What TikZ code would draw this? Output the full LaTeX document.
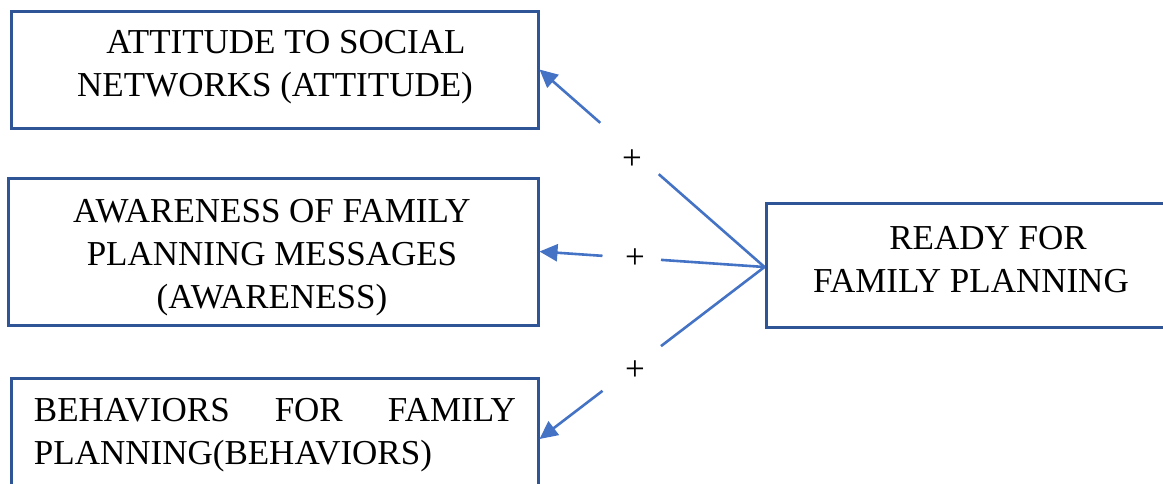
\documentclass[tikz,border=0pt]{standalone}
\usepackage{fontspec}
\setmainfont{Liberation Serif}
\usetikzlibrary{arrows.meta,calc}
\definecolor{boxblue}{HTML}{2F5597}
\definecolor{linkblue}{HTML}{4472C4}
\begin{document}
\begin{tikzpicture}[x=1pt,y=-1pt,
  box/.style={draw=boxblue,line width=3pt,inner sep=0pt},
  txt/.style={font=\fontsize{35}{43}\selectfont,inner sep=0pt,align=center},
  link/.style={draw=linkblue,line width=2.6pt},
  arr/.style={link,-{Triangle[length=18pt,width=17pt]}}]
\useasboundingbox (0,0) rectangle (1163,483);
\clip (0,0) rectangle (1163,483);
\node[box,minimum width=527pt,minimum height=117pt] (b1) at (274.5,69.5) {};
\node[box,minimum width=530pt,minimum height=147pt] (b2) at (273,251.5) {};
\node[box,minimum width=527pt,minimum height=122pt] (b3) at (274.5,439) {};
\node[box,minimum width=414pt,minimum height=124pt] (b4) at (973,265) {};
\node[txt] (t1) at (275,67.5) {\hspace*{22pt}ATTITUDE TO SOCIAL\\NETWORKS (ATTITUDE)};
\node[txt] (t2) at (272,258) {AWARENESS OF FAMILY\\PLANNING MESSAGES\\(AWARENESS)};
\node[txt,align=left,text width=482pt] (t3) at (275,435.5) {\hbox to 482pt{BEHAVIORS\hfill FOR\hfill FAMILY}\\PLANNING(BEHAVIORS)};
\node[txt] (t4) at (971,259.5) {\hspace*{34pt}READY FOR\\FAMILY PLANNING};
\coordinate (r) at ([yshift=-2pt]b4.west);
\draw[link] (r) -- ($(r)!0.47!(b1.east)$);
\draw[arr] ($(r)!0.73!(b1.east)$) -- (b1.east);
\draw[link] (r) -- ($(r)!0.46!(b2.east)$);
\draw[arr] ($(r)!0.72!(b2.east)$) -- (b2.east);
\draw[link] (r) -- ($(r)!0.46!(b3.east)$);
\draw[arr] ($(r)!0.72!(b3.east)$) -- (b3.east);
\node[txt] (p1) at (632,160) {+};
\node[txt] (p2) at (635,259) {+};
\node[txt] (p3) at (635,371) {+};
\end{tikzpicture}
\end{document}
